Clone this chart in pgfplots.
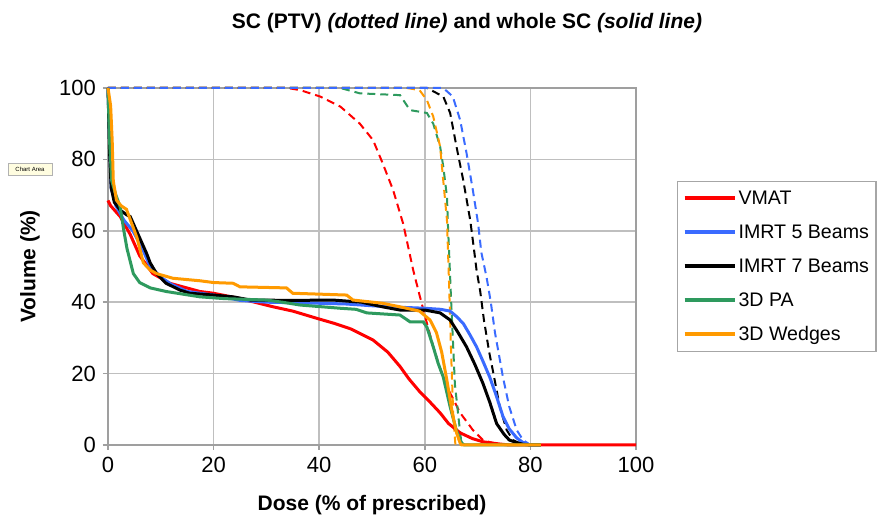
\documentclass[border=0pt]{standalone}
\usepackage{fontspec}
\setmainfont{Liberation Sans}
\usepackage{pgfplots}
\pgfplotsset{compat=1.18}
\definecolor{vmat}{HTML}{FF0000}
\definecolor{imrtfive}{HTML}{3A6BFF}
\definecolor{imrtseven}{HTML}{000000}
\definecolor{pa}{HTML}{2E9A5E}
\definecolor{wedge}{HTML}{FF9A00}
\begin{document}
\begin{tikzpicture}
\begin{axis}[
  name=main, at={(0,0)}, anchor=south west,
  scale only axis, width=264pt, height=178.5pt,
  xmin=0, xmax=100, ymin=0, ymax=100,
  xtick={0,20,...,100}, ytick={0,20,...,100},
  grid=major, grid style={gray!50, line width=0.8pt},
  axis line style={gray!75, line width=0.8pt},
  tick align=outside, xtick pos=left, ytick pos=left,
  major tick length=2.5pt, tick style={gray!75, line width=0.8pt},
  /pgf/number format/assume math mode=true,
  tick label style={font=\fontsize{11}{12}\selectfont},
  xlabel={\textbf{Dose (\% of prescribed)}},
  ylabel={\textbf{Volume (\%)}},
  label style={font=\fontsize{10.5}{12}\selectfont},
  xlabel style={at={(axis description cs:0.5,-0.168)}, anchor=center},
  ylabel style={at={(axis description cs:-0.1477,0.5)}, anchor=center},
  clip=false,
  legend cell align=left,
  legend style={at={(axis description cs:1,0.5)}, anchor=west, xshift=20.5pt,
    draw=gray!70, fill=white, line width=0.6pt, inner sep=2.5pt,
    font=\fontsize{9.8}{12}\selectfont, row sep=5pt,
    nodes={inner sep=1pt, text height=8pt, text depth=2pt}},
  legend image code/.code={\draw[#1, line width=2pt] (0pt,0pt) -- (25pt,0pt);},
]
% dotted lines: SC (PTV)
\addplot[vmat, line width=1pt, dash pattern=on 4pt off 2.5pt, forget plot] coordinates {
 (0,100)(34,100)(36.4,99.4)(40.2,97.6)(44,94.8)(47.7,90)(50.2,85.4)(52,79)(54,71.4)
 (55.9,62)(57.8,49)(59,42)(59.7,38)(61.6,27.5)(63,21)(64.2,16.3)(66.7,9)(69.1,4.2)
 (71,1.4)(73,0.5)(75,0)(82,0)};
\addplot[pa, line width=1pt, dash pattern=on 4pt off 2.5pt, forget plot] coordinates {
 (0,100)(44,100)(47.7,98.5)(55.3,98)(57.2,93.8)(60.4,93)(61.6,90)(62.9,83.6)(63.5,78)
 (64.2,69.5)(64.4,61)(65,40)(65.7,17)(66.7,3.4)(67,0)(82,0)};
\addplot[wedge, line width=1pt, dash pattern=on 4pt off 2.5pt, forget plot] coordinates {
 (0,100)(56.6,100)(59,99.4)(60.4,96.6)(61.6,92)(62.9,83.6)(63.5,74)(64.2,63)(64.6,45)
 (65,25)(65.4,8)(65.8,0)(82,0)};
\addplot[imrtseven, line width=1pt, dash pattern=on 4pt off 2.5pt, forget plot] coordinates {
 (0,100)(60.4,100)(63.5,97.6)(64.8,93)(66,83.6)(67.3,74)(68.6,63)(69.3,55)(69.8,49)
 (70.5,43)(71.2,35)(72.2,26)(73,20)(74.2,10.7)(75.5,4.2)(76.7,1.4)(78.6,0)(82,0)};
\addplot[imrtfive, line width=1pt, dash pattern=on 4pt off 2.5pt, forget plot] coordinates {
 (0,100)(63.5,100)(65.3,97.6)(66.7,91)(67.9,81.8)(69.1,71.4)(70.1,62)(70.7,54)(71.7,47)
 (72.5,40)(73.3,31.4)(74.2,24)(74.8,19)(76,10.7)(77.4,4.2)(78.6,1.4)(80,0)(82,0)};
% solid lines: whole SC
\addplot[vmat, line width=1.5pt] coordinates {
 (0,68.5)(0.5,67)(2.3,64)(4.2,59)(6,53)(8.5,48)(11.7,45.3)(17.4,43)(20,42.5)(25,41)
 (31.3,38.7)(35,37.5)(39.5,35.5)(43,34)(46,32.5)(50.2,29.4)(53,26)(55.3,22)(57,18.5)
 (59,15)(61,12)(62.9,9)(64.5,6)(66.7,3.4)(69,1.8)(71,0.9)(74,0.3)(76,0)(100,0)};
\addlegendentry{VMAT}
\addplot[imrtfive, line width=1.5pt] coordinates {
 (0,100)(0.3,85)(0.6,72)(1.5,67)(3,63)(4.7,60)(6.5,55)(8,50)(10,47)(12,45)(15,43)
 (20,42)(25,40.5)(30,40)(40,39.7)(45,39.5)(50,39)(55,38.6)(60,38.3)(63,38)(64.8,37.5)
 (66,36)(67.3,34)(68.5,31)(69.8,27.5)(71,23.5)(72.3,19)(73.5,14)(74.8,8)(76,4.5)
 (77.4,2)(78.5,0.8)(79.5,0.2)(80,0)(82,0)};
\addlegendentry{IMRT 5 Beams}
\addplot[imrtseven, line width=1.5pt] coordinates {
 (0,100)(0.3,82)(0.6,72)(1.2,68)(2.3,65.8)(3.5,64.5)(4.2,64)(5.4,60)(7.3,53.7)(8,51)
 (9.2,48)(11,45.3)(13.6,43.4)(15.5,42.5)(20,42)(23.7,41.5)(27,40.6)(35,40.5)(42.6,40.6)
 (48,40)(52,38.7)(55.3,37.8)(60,37.8)(62.9,37)(64.8,35)(66.3,31.5)(67.9,27.5)(69.5,22.5)
 (71,17.3)(72.3,12)(73.6,6)(75,3)(76,1.4)(77.5,0.6)(78.6,0.2)(80,0)(82,0)};
\addlegendentry{IMRT 7 Beams}
\addplot[pa, line width=1.5pt] coordinates {
 (0,100)(0.3,85)(0.7,74)(1.5,70)(2.3,66.7)(3,60)(3.6,55)(4.8,48)(6,45.5)(8,44)(11,43)
 (17.4,41.5)(22,41)(30,40.6)(33,40)(36.4,39.2)(44,38.3)(47,38)(49,37)(55.3,36.4)
 (57.2,34.5)(59.7,34.5)(60.4,33)(61.6,27.5)(62.5,23)(63.5,19)(64.8,10.7)(66,4)
 (67,0.5)(67.5,0)(82,0)};
\addlegendentry{3D PA}
\addplot[wedge, line width=1.5pt] coordinates {
 (0,100)(0.5,95)(0.8,85)(1,74)(1.6,68.6)(2.5,67)(3.5,66)(4.5,62)(5.5,58)(6.7,51)(8,49)
 (9.2,48)(12.3,46.7)(17.4,46)(20,45.5)(23.7,45.3)(25,44.3)(33.8,44)(35,42.5)(45.2,42)
 (46.4,40.6)(52,39.7)(55.3,38.7)(59,37.5)(61,35)(62.2,31.5)(63.2,26)(64.2,18)(65.2,9)
 (66,3.5)(66.7,0.5)(67,0)(82,0)};
\addlegendentry{3D Wedges}
\end{axis}
\node[font=\fontsize{10.5}{12}\selectfont\bfseries] at (179.5pt,211pt)
  {SC (PTV) \textit{(dotted line)} and whole SC \textit{(solid line)}};
\node[draw=gray!60, fill=yellow!12, inner sep=0.8pt, minimum width=22pt, minimum height=6pt,
  font=\fontsize{3}{3}\selectfont] at (-39pt,138pt) {Chart Area};
\pgfresetboundingbox
\useasboundingbox (-54pt,-38.5pt) rectangle (386pt,222.5pt);
\end{tikzpicture}
\end{document}
